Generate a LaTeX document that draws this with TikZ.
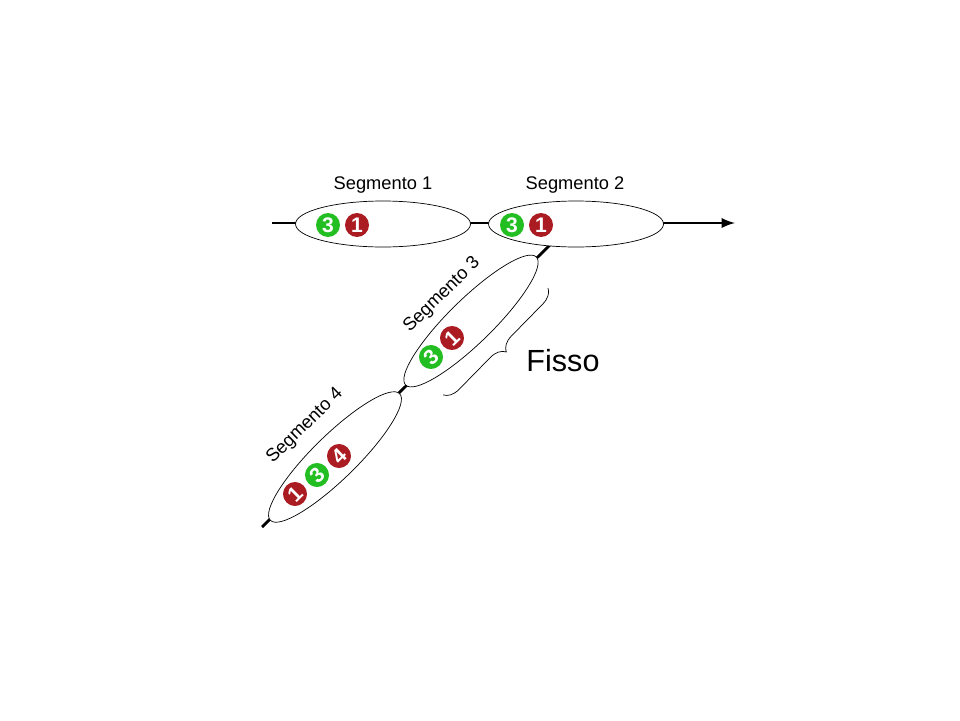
\documentclass[tikz,border=0pt]{standalone}
\usepackage{fontspec}
\setmainfont{Liberation Sans}
\usetikzlibrary{shapes.geometric,decorations.pathreplacing}
\definecolor{chipgreen}{RGB}{34,190,34}
\definecolor{chipred}{RGB}{170,28,34}
\tikzstyle{seg}=[ellipse,draw,fill=white,thin,minimum width=3.5cm,minimum height=0.92cm,inner sep=0pt]
\tikzstyle{track}=[line width=1.6pt]
\tikzstyle{chip}=[circle,inner sep=0pt,minimum size=0.48cm,text=white,font=\bfseries\fontsize{12}{12}\selectfont]
\tikzstyle{chipG}=[chip,fill=chipgreen]
\tikzstyle{chipR}=[chip,fill=chipred]
\tikzstyle{lab}=[font=\fontsize{10.4}{12}\selectfont]

\begin{document}
\begin{tikzpicture}[x=0.02cm,y=-0.02cm]
  \useasboundingbox (0,0) rectangle (960,720);

  % i binari
  \coordinate (A) at (272,223);
  \coordinate (B) at (735,223);
  \coordinate (C) at (262,527);
  \coordinate (D) at (550,245);
  \draw[track,-latex] (A)--(B);
  \draw[track] (C)--(D);

  \node[seg] (S1) at (383,224) {};
  \node[seg] (S2) at (576,224) {};
  \node[seg,rotate=44.4,minimum width=3.66cm,minimum height=0.88cm] (S3) at (471,321) {};
  \node[seg,rotate=44.4,minimum width=3.62cm,minimum height=0.88cm] (S4) at (335,457) {};

  \node[lab] (L1) at (383,185) {Segmento 1};
  \node[lab] (L2) at (575,185) {Segmento 2};
  \node[lab,rotate=44.4] (L3) at (442,295) {Segmento 3};
  \node[lab,rotate=44.4] (L4) at (305,426) {Segmento 4};

  \node[chipG] (g1) at (328,225) {3}; \node[chipR] (r1) at (357,225) {1};
  \node[chipG] (g2) at (512,225) {3}; \node[chipR] (r2) at (541,225) {1};
  \node[chipG,rotate=44.4] (g3) at (431,357) {3}; \node[chipR,rotate=44.4] (r3) at (452,338) {1};
  \node[chipR,rotate=44.4] (r4a) at (295,494) {1};
  \node[chipG,rotate=44.4] (g4) at (317,475) {3};
  \node[chipR,rotate=44.4] (r4b) at (339,456) {4};

  % la graffa
  \coordinate (F1) at (548,288);
  \coordinate (F2) at (443,395);
  \draw[thin,decorate,decoration={brace,amplitude=0.3cm}] (F1)--(F2);
  \node[font=\fontsize{17.4}{20}\selectfont] (F) at (563,361) {Fisso};

\end{tikzpicture}
\end{document}
